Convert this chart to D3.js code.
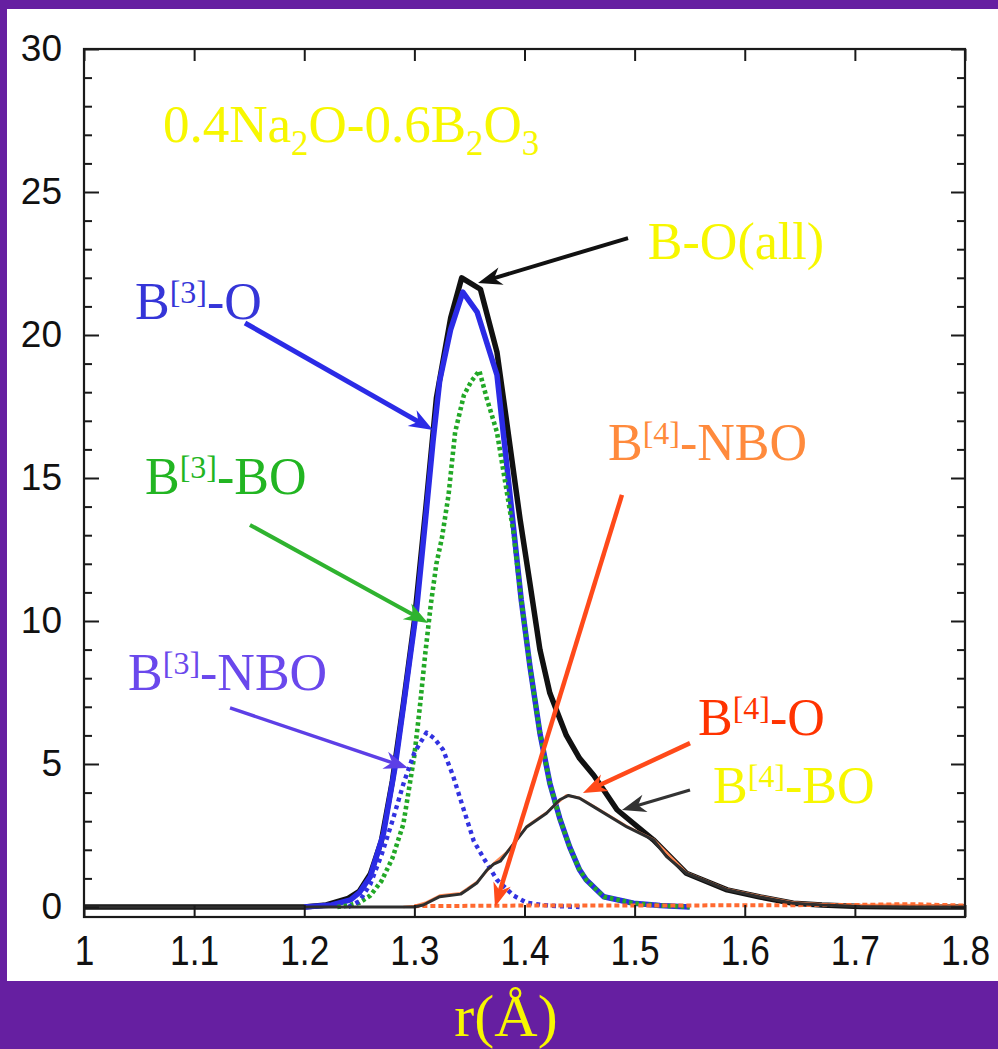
<!DOCTYPE html>
<html>
<head>
<meta charset="utf-8">
<script src="https://cdn.jsdelivr.net/npm/d3@7"></script>
<style>
  html, body { margin: 0; padding: 0; background: #661fa1; }
  svg { display: block; }
</style>
</head>
<body>
<svg id="chart" width="998" height="1049"></svg>
<script>
// Partial B–O pair distribution functions, 0.4Na2O-0.6B2O3 glass

// B-O (all), thick black
const rAll = [1.00, 1.20, 1.22, 1.24, 1.25, 1.26, 1.27, 1.28, 1.29, 1.30, 1.31, 1.32, 1.333, 1.343, 1.36, 1.375, 1.381, 1.396, 1.405, 1.414, 1.423, 1.438, 1.45, 1.463, 1.484, 1.517, 1.547, 1.584, 1.614, 1.644, 1.67, 1.705, 1.75, 1.80];
const vAll = [0, 0, 0.07, 0.3, 0.55, 1.15, 2.3, 4.4, 7.1, 10.0, 13.8, 17.8, 20.6, 22.0, 21.6, 19.4, 17.75, 13.55, 11.3, 9.0, 7.48, 6.0, 5.2, 4.6, 3.4, 2.35, 1.18, 0.6, 0.35, 0.13, 0.07, 0.02, 0, 0];

// B[3]-O, thick blue
const rB3O = [1.20, 1.225, 1.242, 1.25, 1.26, 1.272, 1.2825, 1.29, 1.296, 1.302, 1.31, 1.317, 1.323, 1.333, 1.344, 1.357, 1.375, 1.388, 1.397, 1.405, 1.414, 1.423, 1.432, 1.441, 1.45, 1.456, 1.472, 1.499, 1.523, 1.55];
const vB3O = [0, 0.07, 0.25, 0.5, 1.06, 2.58, 4.9, 7.0, 8.7, 10.4, 13.5, 16.3, 18.4, 20.2, 21.5, 20.8, 18.6, 14.0, 10.75, 8.4, 6.08, 4.33, 3.1, 2.1, 1.3, 0.95, 0.36, 0.13, 0.05, 0];

// B[3]-BO, green dotted
const rB3BO = [1.23, 1.24, 1.25, 1.26, 1.27, 1.28, 1.29, 1.30, 1.305, 1.31, 1.315, 1.32, 1.325, 1.331, 1.337, 1.345, 1.352, 1.359, 1.366, 1.375, 1.384, 1.39, 1.397, 1.405, 1.414, 1.423, 1.432, 1.441, 1.45, 1.456, 1.472, 1.499, 1.523, 1.55];
const vB3BO = [0, 0.05, 0.15, 0.4, 0.9, 1.7, 2.9, 5.3, 7.0, 8.9, 10.6, 12.0, 12.9, 14.4, 16.6, 17.9, 18.4, 18.75, 17.75, 16.6, 14.5, 13.1, 10.75, 8.4, 6.08, 4.33, 3.1, 2.1, 1.3, 0.95, 0.36, 0.13, 0.05, 0];

// B[3]-NBO, blue dotted
const rB3NBO = [1.24, 1.25, 1.26, 1.27, 1.28, 1.29, 1.30, 1.311, 1.318, 1.326, 1.335, 1.344, 1.354, 1.363, 1.375, 1.39, 1.402, 1.416, 1.43, 1.45];
const vB3NBO = [0, 0.2, 0.8, 1.8, 3.0, 4.3, 5.4, 6.1, 5.9, 5.5, 4.6, 3.5, 2.3, 1.7, 0.95, 0.4, 0.15, 0.07, 0.03, 0];

// B[4]-O, orange solid
const rB4O = [1.29, 1.30, 1.31, 1.323, 1.342, 1.357, 1.372, 1.384, 1.402, 1.42, 1.438, 1.45, 1.463, 1.493, 1.517, 1.547, 1.584, 1.614, 1.644, 1.67, 1.70, 1.73, 1.76, 1.80];
const vB4O = [0, 0.04, 0.15, 0.4, 0.48, 0.88, 1.52, 1.92, 2.82, 3.3, 3.9, 3.82, 3.52, 2.82, 2.37, 1.2, 0.62, 0.38, 0.16, 0.1, 0.06, 0.08, 0.06, 0.04];

// B[4]-NBO, orange dashed
const rB4NBO = [1.30, 1.40, 1.50, 1.60, 1.70, 1.75, 1.80];
const vB4NBO = [0.03, 0.05, 0.05, 0.06, 0.07, 0.1, 0.05];

// B[4]-BO, thin dark grey
const rB4BO = [1.00, 1.30, 1.308, 1.323, 1.342, 1.348, 1.357, 1.366, 1.372, 1.378, 1.384, 1.402, 1.42, 1.432, 1.44, 1.45, 1.463, 1.493, 1.517, 1.529, 1.547, 1.565, 1.584, 1.614, 1.644, 1.67, 1.705, 1.75, 1.80];
const vB4BO = [0, 0, 0.07, 0.36, 0.45, 0.6, 0.85, 1.3, 1.5, 1.6, 1.9, 2.8, 3.28, 3.75, 3.9, 3.8, 3.5, 2.8, 2.35, 1.76, 1.18, 0.9, 0.6, 0.35, 0.13, 0.07, 0.02, 0, 0];

// Axis ticks
const xTicks = [1.0, 1.1, 1.2, 1.3, 1.4, 1.5, 1.6, 1.7, 1.8];
const xTickLabels = ["1", "1.1", "1.2", "1.3", "1.4", "1.5", "1.6", "1.7", "1.8"];
const yTicks = [0, 5, 10, 15, 20, 25, 30];
const yMinorTicks = d3.range(0, 31, 1).filter(v => v % 5 !== 0);

const svg = d3.select("#chart");
const W = 998, H = 1049;
const plot = { left: 84, right: 965, top: 49, bottom: 917 };

const x = d3.scaleLinear().domain([1.0, 1.8]).range([plot.left, plot.right]);
const y = d3.scaleLinear().domain([-0.35, 30]).range([plot.bottom, plot.top]);

// purple frame with white panel
svg.append("rect").attr("width", W).attr("height", H).attr("fill", "#661fa1");
svg.append("rect").attr("x", 7).attr("y", 9).attr("width", W - 7).attr("height", 972).attr("fill", "#ffffff");

const line = d3.line().x(d => x(d[0])).y(d => y(d[1]));
const zip = (rs, vs) => rs.map((r, i) => [r, vs[i]]);

const curves = svg.append("g").attr("fill", "none").attr("stroke-linejoin", "round");

curves.append("path").attr("d", line(zip(rAll, vAll)))
  .attr("stroke", "#111").attr("stroke-width", 5.5);
curves.append("path").attr("d", line(zip(rB3O, vB3O)))
  .attr("stroke", "#2b2be6").attr("stroke-width", 5.5);
curves.append("path").attr("d", line(zip(rB3BO, vB3BO)))
  .attr("stroke", "#22a826").attr("stroke-width", 4.6).attr("stroke-dasharray", "3.5,3");
curves.append("path").attr("d", line(zip(rB3NBO, vB3NBO)))
  .attr("stroke", "#3232e0").attr("stroke-width", 4.4).attr("stroke-dasharray", "4,4");
curves.append("path").attr("d", line(zip(rB4O, vB4O)))
  .attr("stroke", "#ff8a55").attr("stroke-width", 2.4);
curves.append("path").attr("d", line(zip(rB4NBO, vB4NBO)))
  .attr("stroke", "#ff6a30").attr("stroke-width", 4).attr("stroke-dasharray", "5,3");
curves.append("path").attr("d", line(zip(rB4BO, vB4BO)))
  .attr("stroke", "#2e2e2e").attr("stroke-width", 3);

// frame and axes
const axes = svg.append("g").attr("font-family", "'Liberation Sans', Arial, sans-serif");

const xAxis = axes.append("g").attr("transform", `translate(0,${plot.bottom})`)
  .call(d3.axisBottom(x).tickValues(xTicks).tickSize(-12).tickPadding(18)
    .tickFormat((d, i) => xTickLabels[i]));
xAxis.selectAll("text").attr("font-size", 42).attr("fill", "#111")
  .attr("transform", "scale(0.84,1)");

axes.append("g").attr("transform", `translate(0,${plot.top})`)
  .call(d3.axisTop(x).tickValues(xTicks).tickSize(-12).tickFormat(""));

const yAxis = axes.append("g").attr("transform", `translate(${plot.left},0)`)
  .call(d3.axisLeft(y).tickValues(yTicks).tickSize(-15).tickPadding(22));
yAxis.selectAll("text").attr("font-size", 37).attr("fill", "#111");

axes.append("g").attr("transform", `translate(${plot.left},0)`)
  .call(d3.axisLeft(y).tickValues(yMinorTicks).tickSize(-8).tickFormat(""));
axes.append("g").attr("transform", `translate(${plot.right},0)`)
  .call(d3.axisRight(y).tickValues(yTicks).tickSize(-14).tickFormat(""));
axes.append("g").attr("transform", `translate(${plot.right},0)`)
  .call(d3.axisRight(y).tickValues(yMinorTicks).tickSize(-8).tickFormat(""));

axes.selectAll(".domain").remove();
axes.selectAll(".tick line").attr("stroke", "#1a1a1a").attr("stroke-width", 2);

svg.append("rect")
  .attr("x", plot.left).attr("y", plot.top)
  .attr("width", plot.right - plot.left).attr("height", plot.bottom - plot.top)
  .attr("fill", "none").attr("stroke", "#1a1a1a").attr("stroke-width", 2.2);

// annotation arrows: tail -> tip, in data units
const arrows = [
  { from: [1.494, 23.39], to: [1.3578, 21.82], color: "#111", w: 4 },
  { from: [1.1462, 20.42], to: [1.3169, 16.68], color: "#2b2be6", w: 5 },
  { from: [1.1507, 13.36], to: [1.3124, 9.93], color: "#2fb32f", w: 4 },
  { from: [1.1326, 6.96], to: [1.2942, 4.86], color: "#5d3fe6", w: 3.5 },
  { from: [1.4885, 14.41], to: [1.3732, 0.0], color: "#ff4a1a", w: 4.5 },
  { from: [1.5503, 5.73], to: [1.4531, 3.99], color: "#ff4a1a", w: 4.5 },
  { from: [1.5503, 4.09], to: [1.4885, 3.39], color: "#333", w: 3.2 }
];

const ag = svg.append("g");
arrows.forEach(a => {
  const x0 = x(a.from[0]), y0 = y(a.from[1]);
  const x1 = x(a.to[0]), y1 = y(a.to[1]);
  const dx = x1 - x0, dy = y1 - y0, len = Math.hypot(dx, dy);
  const ux = dx / len, uy = dy / len;
  const hl = 24, hw = 9;
  const bx = x1 - ux * hl, by = y1 - uy * hl;
  ag.append("line")
    .attr("x1", x0).attr("y1", y0)
    .attr("x2", x1 - ux * hl * 0.6).attr("y2", y1 - uy * hl * 0.6)
    .attr("stroke", a.color).attr("stroke-width", a.w);
  ag.append("path")
    .attr("d", `M${x1},${y1} L${bx - uy * hw},${by + ux * hw} L${x1 - ux * hl * 0.7},${y1 - uy * hl * 0.7} L${bx + uy * hw},${by - ux * hw} Z`)
    .attr("fill", a.color);
});

// series labels: base text, superscript, remainder
const labels = [
  { at: [1.512, 22.66], base: "B-O(all)", sup: "", rest: "", color: "#f7f700" },
  { at: [1.0463, 20.56], base: "B", sup: "[3]", rest: "-O", color: "#3535d8" },
  { at: [1.0554, 14.44], base: "B", sup: "[3]", rest: "-BO", color: "#22b522" },
  { at: [1.040, 7.59], base: "B", sup: "[3]", rest: "-NBO", color: "#6a48ec" },
  { at: [1.4758, 15.63], base: "B", sup: "[4]", rest: "-NBO", color: "#ff8a3c" },
  { at: [1.5575, 6.01], base: "B", sup: "[4]", rest: "-O", color: "#ff3300" },
  { at: [1.5712, 3.64], base: "B", sup: "[4]", rest: "-BO", color: "#f7f700" }
];

const lg = svg.append("g").attr("font-family", "'Liberation Serif', 'Times New Roman', serif");
labels.forEach(l => {
  const t = lg.append("text").attr("x", x(l.at[0])).attr("y", y(l.at[1]))
    .attr("font-size", 52).attr("fill", l.color);
  t.append("tspan").text(l.base);
  if (l.sup) {
    t.append("tspan").attr("font-size", 32).attr("dy", -16).text(l.sup);
    t.append("tspan").attr("dy", 16).text(l.rest);
  }
});

// composition title with subscripts
const title = lg.append("text").attr("x", x(1.0717)).attr("y", y(26.75))
  .attr("font-size", 53).attr("fill", "#f7f700");
[["0.4Na", 0], ["2", 1], ["O-0.6B", 0], ["2", 1], ["O", 0], ["3", 1]].forEach(([s, sub], i, arr) => {
  const prevSub = i > 0 ? arr[i - 1][1] : 0;
  const dy = (sub ? 13 : 0) - (prevSub ? 13 : 0);
  title.append("tspan").attr("dy", dy).attr("font-size", sub ? 35 : 53).text(s);
});

// axis title
svg.append("text").attr("x", 506).attr("y", 1036)
  .attr("text-anchor", "middle")
  .attr("font-family", "'Liberation Serif', 'Times New Roman', serif")
  .attr("font-size", 60).attr("fill", "#f7f700")
  .text("r(Å)");
</script>
</body>
</html>
